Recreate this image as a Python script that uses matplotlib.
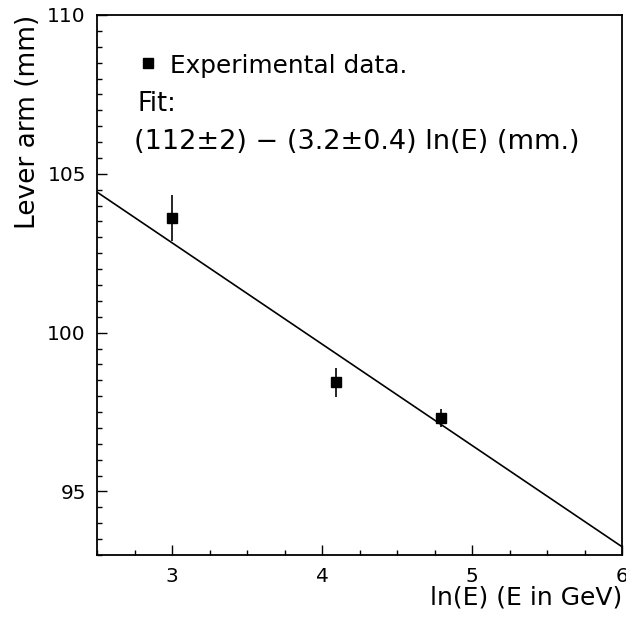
import matplotlib
matplotlib.use("Agg")
import matplotlib.pyplot as plt
import numpy as np
from matplotlib.ticker import MultipleLocator
from matplotlib.lines import Line2D

# data
ln_e = [3.00, 4.09, 4.79]
lever_arm = [103.6, 98.44, 97.32]
lever_err = [0.72, 0.46, 0.29]
fit_intercept = 112.4
fit_slope = -3.19
x_range = [2.5, 6.0]
y_range = [93.0, 110.0]

W, H = 626, 621
fig = plt.figure(figsize=(W / 100, H / 100), dpi=100)
ax = fig.add_axes([97 / W, 1 - 555 / H, (622 - 97) / W, (555 - 15) / H])

xf = np.array(x_range)
ax.plot(xf, fit_intercept + fit_slope * xf, color="black", lw=1.2, zorder=2)
ax.errorbar(ln_e, lever_arm, yerr=lever_err, fmt="s", color="black",
            ms=7.5, elinewidth=1.2, capsize=0, zorder=3)

ax.set_xlim(*x_range)
ax.set_ylim(*y_range)
ax.xaxis.set_major_locator(MultipleLocator(1))
ax.xaxis.set_minor_locator(MultipleLocator(0.25))
ax.yaxis.set_major_locator(MultipleLocator(5))
ax.yaxis.set_minor_locator(MultipleLocator(0.5))
ax.tick_params(which="both", direction="in", top=False, right=False, width=1.0, labelsize=14.5)
ax.tick_params(which="major", length=7.5)
ax.tick_params(which="minor", length=3.8)
ax.tick_params(axis="x", pad=9)
ax.tick_params(axis="y", pad=8)
for s in ax.spines.values():
    s.set_linewidth(1.3)

# labels
fig.text(622 / W, 1 - 598 / H, "ln(E) (E in GeV)", ha="right", va="center", fontsize=18)
fig.text(28 / W, 1 - 15 / H, "Lever arm (mm)", ha="center", va="top", rotation=90, fontsize=19)

# legend / annotations
fig.add_artist(Line2D([148 / W], [1 - 63 / H], marker="s", color="black", ms=6.5,
                      linestyle="none", transform=fig.transFigure))
fig.text(170 / W, 1 - 66 / H, "Experimental data.", ha="left", va="center", fontsize=17.8)
fig.text(138 / W, 1 - 104 / H, "Fit:", ha="left", va="center", fontsize=18.5)
fig.text(134 / W, 1 - 142 / H, "(112\u00b12) \u2212 (3.2\u00b10.4) ln(E) (mm.)", ha="left", va="center", fontsize=19.5)

fig.savefig("out.png", dpi=100)
